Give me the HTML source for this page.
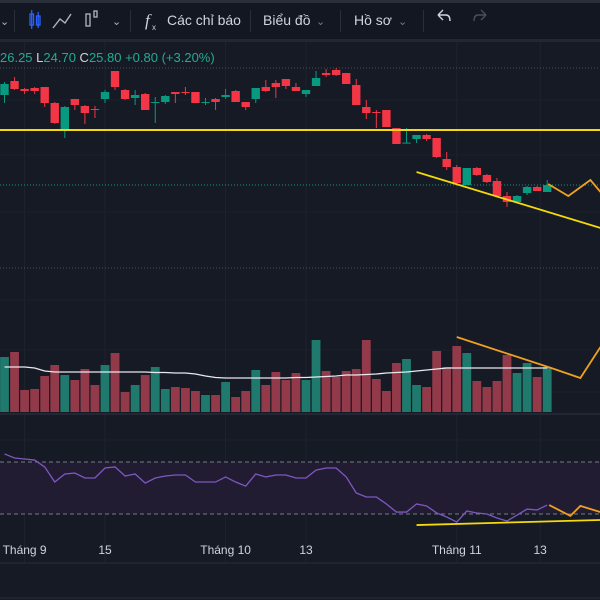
<!DOCTYPE html>
<html><head><meta charset="utf-8"><style>
html,body{margin:0;padding:0;background:#161a25;width:600px;height:600px;overflow:hidden;font-family:"Liberation Sans","Noto Sans CJK SC",sans-serif}
svg{display:block}
</style></head><body>
<svg id="c" width="600" height="600" xmlns="http://www.w3.org/2000/svg">
<rect x="0" y="0" width="600" height="600" fill="#161a25"/>
<g>
<rect x="0" y="0" width="600" height="40" fill="#131722"/>
<rect x="0" y="0" width="600" height="3" fill="#2a2e39"/>
<rect x="0" y="39" width="600" height="3" fill="#232734"/>
<text x="0" y="25" fill="#b2b5be" font-size="11">⌄</text>
<rect x="14" y="10" width="1" height="22" fill="#2a2e39"/>
<g stroke="#2962ff" fill="none" stroke-width="1.3">
<rect x="30" y="14" width="3.5" height="11"/><line x1="31.7" y1="10" x2="31.7" y2="29"/><rect x="36.5" y="16" width="3.5" height="9"/><line x1="38.2" y1="12" x2="38.2" y2="28"/></g>
<polyline points="53,28 60,19 65,23 71,14" fill="none" stroke="#b2b5be" stroke-width="1.4"/>
<g stroke="#b2b5be" fill="none" stroke-width="1.3"><rect x="86" y="14" width="4" height="12"/><rect x="94" y="11" width="3" height="6"/></g>
<text x="112" y="25" fill="#b2b5be" font-size="11">⌄</text>
<rect x="130" y="10" width="1" height="22" fill="#2a2e39"/>
<text x="145" y="26" fill="#d1d4dc" font-size="17" font-style="italic" font-family="Liberation Serif,serif">f</text>
<text x="152" y="30" fill="#d1d4dc" font-size="8">x</text>
<text x="167" y="25" fill="#d1d4dc" font-size="14">Các chỉ báo</text>
<rect x="250" y="10" width="1" height="22" fill="#2a2e39"/>
<text x="263" y="25" fill="#d1d4dc" font-size="14">Biểu đồ</text>
<text x="316" y="25" fill="#787b86" font-size="11">⌄</text>
<rect x="340" y="10" width="1" height="22" fill="#2a2e39"/>
<text x="354" y="25" fill="#d1d4dc" font-size="14">Hồ sơ</text>
<text x="398" y="25" fill="#787b86" font-size="11">⌄</text>
<rect x="423" y="10" width="1" height="22" fill="#2a2e39"/>
<path d="M438,15 L443,20 M438,15 L443,10 M438,15 L446,15 Q450,15 450,21" fill="none" stroke="#d1d4dc" stroke-width="1.4"/>
<path d="M486,15 L481,20 M486,15 L481,10 M486,15 L478,15 Q474,15 474,21" fill="none" stroke="#4a4e59" stroke-width="1.4"/>
</g>
<g id="grid"></g>
<g id="panes">
<line x1="0" y1="68" x2="600" y2="68" stroke="#4a4e59" stroke-dasharray="1,2"/>
<line x1="0" y1="268" x2="600" y2="268" stroke="#4a4e59" stroke-dasharray="1,2"/>
<line x1="0" y1="414" x2="600" y2="414" stroke="#232734" stroke-width="2"/>
<line x1="0" y1="563" x2="600" y2="563" stroke="#2a2e39"/>
<line x1="0" y1="598" x2="600" y2="598" stroke="#2a2e39"/>
</g>
<g id="rsiPane"></g>
<g id="vol"></g>
<g id="candles"></g>
<g id="draw"></g>
<text x="0" y="62" font-size="13"><tspan fill="#22ab94">26.25 </tspan><tspan fill="#d1d4dc">L</tspan><tspan fill="#22ab94">24.70 </tspan><tspan fill="#d1d4dc">C</tspan><tspan fill="#22ab94">25.80 +0.80 (+3.20%)</tspan></text>
<g id="taxis"></g>
</svg>
<script>
const opens=[28.25,28.95,28.55,28.60,28.65,27.85,26.55,28.05,27.70,27.55,28.05,29.45,28.50,28.10,28.30,27.85,27.90,28.40,28.40,28.40,27.85,28.05,28.15,28.45,27.90,28.05,28.65,28.85,29.05,28.65,28.30,28.70,29.35,29.50,29.35,28.75,27.65,27.40,27.50,26.60,25.85,26.05,26.25,26.10,25.05,24.65,23.75,24.60,24.25,23.95,23.20,22.90,23.35,23.65,23.40];
const highs=[28.90,29.15,28.60,28.65,28.65,27.90,27.70,28.05,27.75,27.70,28.50,29.45,28.55,28.50,28.35,28.15,28.25,28.40,28.65,28.40,28.10,28.10,28.55,28.50,27.90,28.60,29.00,29.00,29.05,28.85,28.50,29.45,29.55,29.60,29.35,29.05,28.00,27.50,27.50,26.60,26.60,26.25,26.30,26.10,25.40,24.75,24.60,24.65,24.30,24.10,23.40,23.25,23.70,23.70,24.00];
const lows=[27.85,28.50,28.30,28.30,27.65,26.80,26.10,27.50,26.80,27.10,27.85,28.50,28.00,27.75,27.50,26.85,27.80,27.85,28.25,27.85,27.75,27.50,28.05,27.90,27.50,27.85,28.40,28.10,28.55,28.45,28.15,28.70,29.15,29.20,28.80,27.75,27.05,26.60,26.65,25.80,25.85,25.85,25.95,25.10,24.50,23.80,23.75,24.20,23.85,23.20,22.65,22.90,23.25,23.45,23.40];
const closes=[28.80,28.55,28.45,28.45,27.85,26.85,27.65,27.75,27.35,27.50,28.40,28.65,28.05,28.25,27.50,27.90,28.20,28.30,28.35,27.85,27.90,27.90,28.25,27.90,27.65,28.60,28.45,28.65,28.70,28.45,28.50,29.10,29.25,29.25,28.80,27.75,27.35,27.35,26.65,25.80,25.87,26.25,26.05,25.15,24.65,23.85,24.60,24.25,23.90,23.20,22.90,23.20,23.65,23.45,23.75];
const volumes=[1100,1200,440,460,720,940,740,640,860,540,940,1180,400,540,740,900,460,500,480,420,340,340,600,300,420,840,540,800,640,780,640,1440,820,700,820,860,1440,660,420,980,1060,540,500,1220,900,1320,1180,620,500,620,1140,780,980,700,900];
const volMA=[900,900,900,880,820,800,800,800,800,800,800,800,800,800,800,790,790,780,780,760,720,690,680,680,680,680,680,680,680,690,690,700,710,720,740,740,750,760,780,790,800,820,840,860,880,880,880,880,880,880,880,880,880,880,880];
const rsi=[76.2,73.1,72.3,71.5,66.2,54.6,60.8,61.5,57.7,57.7,65.4,66.2,59.2,60.8,53.8,57.7,59.2,60,60,54.6,54.6,54.6,58.5,54.6,51.5,60.8,58.5,60,60,57.7,57.7,63.8,65.4,65.4,58.5,46.2,43.1,43.1,37.7,31.5,31.5,37.7,36.2,30.8,27.7,23.8,32.3,30.8,30,26.9,24.6,29.2,33.8,33.1,36.9];
const timeLabels=["Tháng 9","15","Tháng 10","13","Tháng 11","13"];
const timeIdx=[2,10,22,30,45,53.3];

const NS="http://www.w3.org/2000/svg";
const xS=i=>4.5+i*10.05;
const yP=p=>(33-p)*20;
const yV=v=>412-v/20;
const yR=r=>462+(70-r)*1.3;
function mk(tag,attrs,parent){const e=document.createElementNS(NS,tag);for(const k in attrs)e.setAttribute(k,attrs[k]);parent.appendChild(e);return e;}
const G=id=>document.getElementById(id);

const grid=G('grid');
timeIdx.forEach(i=>{const l=mk('line',{x1:xS(i),x2:xS(i),y1:42,y2:563,stroke:'#1f2330','stroke-width':1},grid);

});
[100,155,212,300,350,392,440,490].forEach(y=>{const l=mk('line',{x1:0,x2:600,y1:y,y2:y,stroke:'#1c202b','stroke-width':1},grid);

});

const rp=G('rsiPane');
const band=mk('rect',{x:0,y:yR(70),width:600,height:yR(30)-yR(70),fill:'#221c33'},rp);


[70,30].forEach(v=>{const l=mk('line',{x1:0,x2:600,y1:yR(v),y2:yR(v),stroke:'#787b86','stroke-dasharray':'4,3'},rp);

});
const rl=mk('polyline',{points:rsi.map((r,i)=>xS(i)+','+yR(r)).join(' '),fill:'none',stroke:'#7e57c2','stroke-width':1.3},rp);



const vg=G('vol');
volumes.forEach((v,i)=>{const up=closes[i]>=opens[i];
const r=mk('rect',{x:xS(i)-4.4,y:yV(v),width:8.8,height:412-yV(v),fill:up?'#1f7a6d':'#923a4a'},vg);

});
const ma=mk('polyline',{points:volMA.map((v,i)=>xS(i)+','+yV(v)).join(' '),fill:'none',stroke:'#e8e8ee','stroke-width':1.3},vg);



const cg=G('candles');
opens.forEach((o,i)=>{const c=closes[i],up=c>=o,col=up?'#089981':'#f23645',x=xS(i);
const w=mk('line',{x1:x,x2:x,y1:yP(highs[i]),y2:yP(lows[i]),stroke:col,'stroke-width':1},cg);


const top=Math.min(yP(o),yP(c)),h=Math.max(1,Math.abs(yP(o)-yP(c)));
const b=mk('rect',{x:x-4.2,y:top,width:8.4,height:h,fill:col},cg);

});
const lp=mk('line',{x1:0,x2:600,y1:yP(closes[closes.length-1]),y2:yP(closes[closes.length-1]),stroke:'#089981','stroke-dasharray':'1,2'},cg);



const dg=G('draw');
const hl=mk('line',{x1:0,x2:600,y1:yP(26.5),y2:yP(26.5),stroke:'#f5d90a','stroke-width':2},dg);


function pl(pts,fy,col,name){const e=mk('polyline',{points:pts.map(p=>xS(p[0])+','+fy(p[1])).join(' '),fill:'none',stroke:col,'stroke-width':1.8},dg);

}
pl([[41,24.4],[59.3,21.6]],yP,'#f5d90a','price-trendline');
pl([[54.1,23.8],[56.1,23.2],[58.3,24.0],[59.3,23.4]],yP,'#f0a020','price-projection');
pl([[45,1500],[54.4,880],[57.3,680],[59.3,1300]],yV,'#f0a020','volume-trendline');
pl([[41,21.5],[59.3,25.4]],yR,'#f5d90a','rsi-trendline');
pl([[54.2,36.9],[56.3,28.5],[57.3,36.2],[59.3,31.5]],yR,'#f0a020','rsi-projection');

const tg=G('taxis');
timeLabels.forEach((t,i)=>{const e=mk('text',{x:xS(timeIdx[i]),y:554,fill:'#d1d4dc','font-size':12,'text-anchor':'middle'},tg);
e.textContent=t;

});
</script>
</body></html>
